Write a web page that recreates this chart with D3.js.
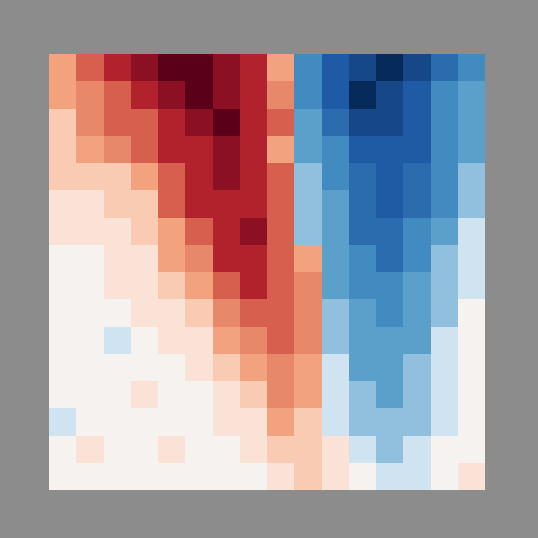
<!DOCTYPE html>
<html>
<head>
<meta charset="utf-8">
<script src="https://cdn.jsdelivr.net/npm/d3@7"></script>
<style>
  html, body { margin: 0; padding: 0; background: #8c8c8c; }
</style>
</head>
<body>
<div id="heatmap"></div>
<script>
// levels per cell: positive = red side, negative = blue side
var row00 = [3, 5, 6, 7, 8, 8, 7, 6, 3, -4, -6, -7, -8, -7, -5, -4];
var row01 = [3, 4, 5, 6, 7, 8, 7, 6, 4, -4, -6, -8, -7, -6, -4, -3];
var row02 = [2, 4, 5, 5, 6, 7, 8, 6, 5, -3, -5, -7, -7, -6, -4, -3];
var row03 = [2, 3, 4, 5, 6, 6, 7, 6, 3, -3, -4, -6, -6, -6, -4, -3];
var row04 = [2, 2, 2, 3, 5, 6, 7, 6, 5, -2, -4, -5, -6, -5, -4, -2];
var row05 = [1, 1, 2, 2, 5, 6, 6, 6, 5, -2, -3, -5, -6, -5, -4, -2];
var row06 = [1, 1, 1, 2, 3, 5, 6, 7, 5, -2, -3, -5, -5, -4, -3, -1];
var row07 = [0, 0, 1, 1, 3, 4, 6, 6, 5, 3, -3, -4, -5, -4, -2, -1];
var row08 = [0, 0, 1, 1, 2, 3, 5, 6, 5, 4, -3, -4, -4, -3, -2, -1];
var row09 = [0, 0, 0, 1, 1, 2, 4, 5, 5, 4, -2, -3, -4, -3, -2, 0];
var row10 = [0, 0, -1, 0, 1, 1, 3, 4, 5, 4, -2, -3, -3, -3, -1, 0];
var row11 = [0, 0, 0, 0, 0, 1, 2, 3, 4, 3, -1, -3, -3, -2, -1, 0];
var row12 = [0, 0, 0, 1, 0, 0, 1, 2, 4, 3, -1, -2, -3, -2, -1, 0];
var row13 = [-1, 0, 0, 0, 0, 0, 1, 1, 3, 2, -1, -2, -2, -2, -1, 0];
var row14 = [0, 1, 0, 0, 1, 0, 0, 1, 2, 2, 1, -1, -2, -1, 0, 0];
var row15 = [0, 0, 0, 0, 0, 0, 0, 0, 1, 2, 1, 0, -1, -1, 0, 1];

var rows = [row00, row01, row02, row03, row04, row05, row06, row07,
            row08, row09, row10, row11, row12, row13, row14, row15];

// dark blue -> near white -> dark red
var palette = ["#062b5a", "#164888", "#1f5aa4", "#2a6cae", "#428bc1", "#5aa0cb", "#90c0dd", "#d0e3f0",
               "#f5f2ef",
               "#fae2d6", "#f9cbb3", "#f3a27e", "#e8886a", "#d6604d", "#b1222c", "#8b1024", "#5b0019"];

var svg = d3.select("#heatmap").append("svg")
  .attr("width", 538)
  .attr("height", 538);

svg.append("rect")
  .attr("width", 538)
  .attr("height", 538)
  .attr("fill", "#8c8c8c");

var margin = {top: 54, right: 53, bottom: 48, left: 49},
    width = 538 - margin.left - margin.right,
    height = 538 - margin.top - margin.bottom;

var g = svg.append("g").attr("transform", "translate(" + margin.left + "," + margin.top + ")");

var x = d3.scaleBand()
  .domain(d3.range(rows[0].length))
  .range([0, width]);

var y = d3.scaleBand()
  .domain(d3.range(rows.length))
  .range([0, height]);

var color = d3.scaleQuantize()
  .domain([-8.5, 8.5])
  .range(palette);

var cells = [];
rows.forEach(function(r, i) {
  r.forEach(function(v, j) { cells.push({row: i, col: j, value: v}); });
});

g.selectAll("rect")
  .data(cells)
  .enter().append("rect")
    .attr("x", function(d) { return x(d.col); })
    .attr("y", function(d) { return y(d.row); })
    .attr("width", x.bandwidth())
    .attr("height", y.bandwidth())
    .attr("shape-rendering", "crispEdges")
    .attr("fill", function(d) { return color(d.value); });
</script>
</body>
</html>
